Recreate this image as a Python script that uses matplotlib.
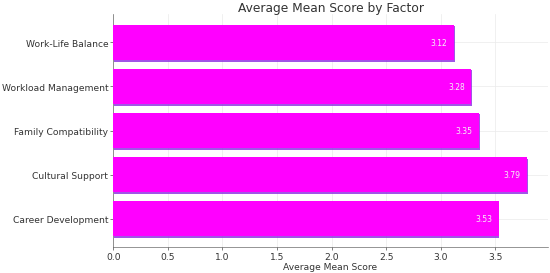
import matplotlib
matplotlib.use("Agg")
import matplotlib.pyplot as plt
import matplotlib.patheffects as pe

factors = ["Career Development", "Cultural Support", "Family Compatibility",
           "Workload Management", "Work-Life Balance"]
mean_scores = [3.53, 3.79, 3.35, 3.28, 3.12]

plt.rcParams["font.family"] = "DejaVu Sans"
text_col = "#333333"

fig, ax = plt.subplots(figsize=(10, 4.98), dpi=55)
fig.subplots_adjust(left=0.206, right=0.996, top=0.945, bottom=0.095)
bars = ax.barh(factors, mean_scores, height=0.8, color="#FF00FF", zorder=3)
for b in bars:
    b.set_path_effects([pe.SimplePatchShadow(offset=(1, -2), shadow_rgbFace="#8A2BE2", alpha=0.8),
                        pe.Normal()])

# value labels inside the bars
for b, v in zip(bars, mean_scores):
    ax.text(v - 0.06, b.get_y() + b.get_height() / 2, f"{v:.2f}",
            ha="right", va="center", color="#f4f4f4", fontsize=10, zorder=4)

ax.set_title("Average Mean Score by Factor", fontsize=16, color=text_col, pad=4)
ax.set_xlabel("Average Mean Score", fontsize=12, color=text_col, labelpad=1)
ax.tick_params(axis="both", labelsize=12, colors=text_col, pad=3)
ax.grid(True, color="#ececec", linewidth=1, zorder=0)
for s in ["top", "right"]:
    ax.spines[s].set_visible(False)
for s in ["left", "bottom"]:
    ax.spines[s].set_color("#555555")

plt.savefig("out.png", dpi=55)
